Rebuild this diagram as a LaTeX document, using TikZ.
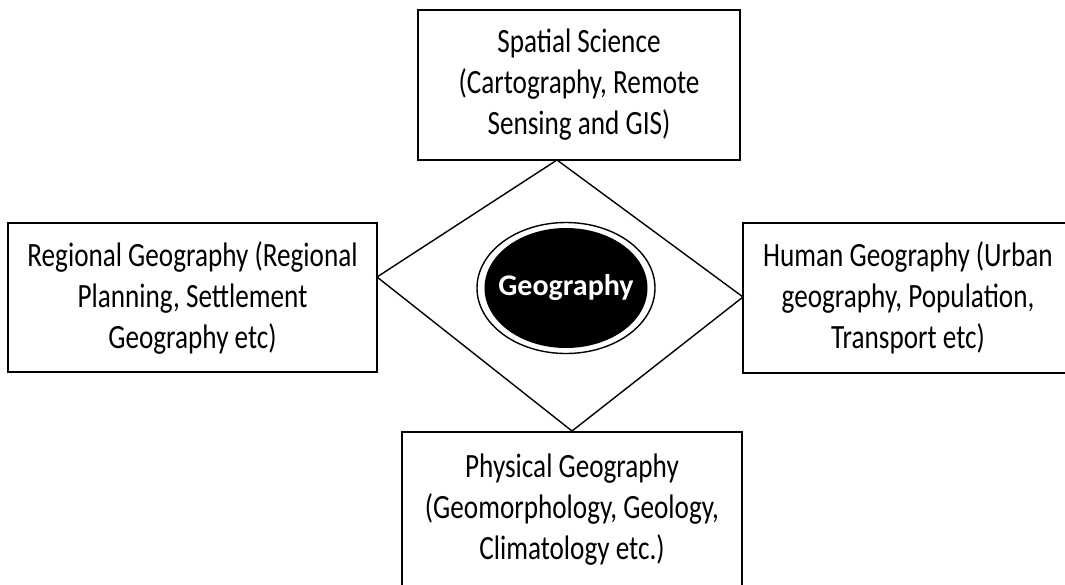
\documentclass[tikz,border=0pt]{standalone}
\usepackage{fontspec}
\setmainfont{Carlito}[FakeStretch=0.8]
\newfontfamily\geofont{Carlito}
\usetikzlibrary{shapes,positioning}
\tikzset{boite/.style={draw,line width=1.6pt,inner sep=0pt,align=center,
  font=\fontsize{34}{41}\selectfont}}

\begin{document}
\begin{tikzpicture}[x=1pt,y=-1pt]
\useasboundingbox (0,0) rectangle (1065,584);
% les quatre branches
\node[boite,minimum width=322pt,minimum height=150pt](spatial)at(579,85){Spatial Science\\(Cartography, Remote\\Sensing and GIS)};
\node[boite,minimum width=369pt,minimum height=149pt](regional)at(192.5,297.5){Regional Geography (Regional\\Planning, Settlement\\Geography etc)};
\node[boite,minimum width=330pt,minimum height=150pt](human)at(908,298){Human Geography (Urban\\geography, Population,\\Transport etc)};
\node[boite,minimum width=340pt,minimum height=156pt](physical)at(572,510){Physical Geography\\(Geomorphology, Geology,\\Climatology etc.)};
% le losange
\coordinate(tv)at(557,160);
\coordinate(lv)at(377,277);
\coordinate(bv)at(572,431);
\coordinate(rv)at(743,297);
\draw[line width=1.4pt](tv)--(rv)--(bv)--(lv)--cycle;
% le centre
\node[ellipse,draw,line width=1.4pt,inner sep=0pt,minimum width=178pt,minimum height=131pt](ring)at(566,288){};
\node[ellipse,fill=black,inner sep=0pt,minimum width=163pt,minimum height=120pt](geo)at(ring.center){};
\node[text=white,font=\geofont\bfseries\fontsize{30}{36}\selectfont](geolabel)at(geo.center){Geography};
\end{tikzpicture}
\end{document}
